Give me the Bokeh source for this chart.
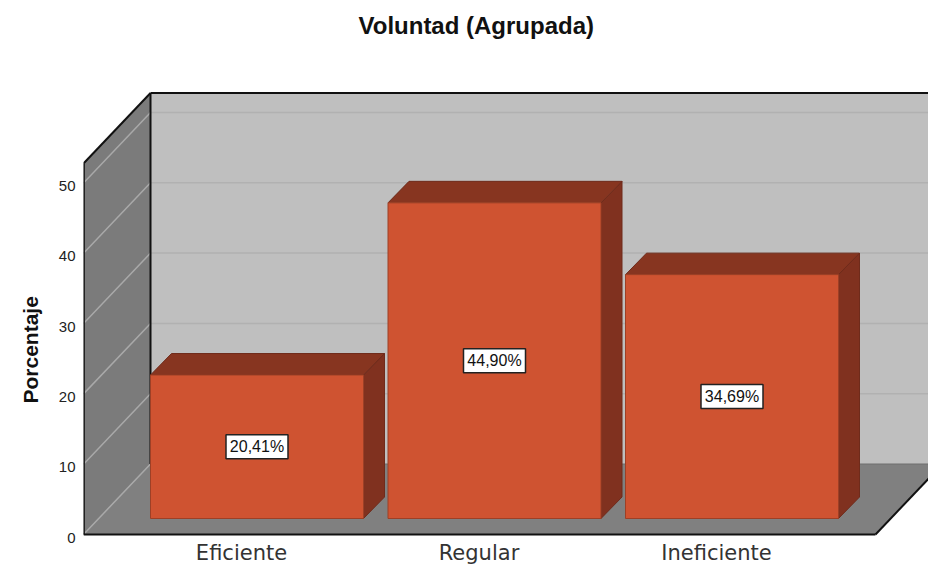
from bokeh.plotting import figure
from bokeh.models import ColumnDataSource, FixedTicker, Range1d, LinearAxis, Title
from bokeh.core.properties import value
from bokeh.embed import file_html
from bokeh.resources import INLINE

title_text = "Voluntad (Agrupada)"
y_label = "Porcentaje"
categories = ["Eficiente", "Regular", "Ineficiente"]
values = [20.41, 44.90, 34.69]
labels = ["20,41%", "44,90%", "34,69%"]
y_ticks = [0, 10, 20, 30, 40, 50]
grid_values = [10, 20, 30, 40, 50]

# scales: pixels per category step / per value unit
PXX, PXY = 237.5, 7.03
def ux(px): return px / PXX
def uy(px): return px / PXY

W, H = 928, 565
LEFT, RIGHT, TOP, BOTTOM = 83, 0, 40, 0
BASE = 31                     # pixels below the value zero
fw, fh = W - LEFT - RIGHT, H - TOP - BOTTOM
x0 = ux(-158)
y_start = -uy(BASE)
y_top = y_start + uy(fh)

p = figure(width=W, height=H, output_backend="svg", toolbar_location=None,
           x_range=Range1d(x0, x0 + ux(fw)), y_range=Range1d(y_start, y_top),
           min_border_left=LEFT, min_border_right=RIGHT, min_border_top=TOP, min_border_bottom=BOTTOM,
           background_fill_color="white", border_fill_color="white", outline_line_color=None)
p.grid.visible = False
p.yaxis.visible = False
p.title.text = title_text
p.title.text_font = "Liberation Sans"
p.title.text_font_size = "24px"
p.title.text_font_style = "bold"
p.title.text_color = "#111111"
p.title.align = "left"
p.title.offset = 275
p.title.standoff = 3

# depth of the box
DX, DY = ux(67), uy(70.5)
XL = x0                      # left front edge
XR = x0 + ux(792)            # right front edge of floor
YT = uy(371)                 # height of the back wall top, front plane

# walls and floor
p.patch([XL + DX, XL + DX + ux(900), XL + DX + ux(900), XL + DX], [DY, DY, YT + DY, YT + DY],
        fill_color="#bfbfbf", line_color=None)
p.patch([XL, XL + DX, XL + DX, XL], [0, DY, YT + DY, YT], fill_color="#7b7b7b", line_color=None)
p.patch([XL, XR, XR + DX, XL + DX], [0, 0, DY, DY], fill_color="#808080", line_color=None)

# gridlines
for g in grid_values:
    p.line([XL + DX, XL + DX + ux(900)], [g + DY, g + DY], line_color="#b1b1b1", line_width=1.5)
    p.line([XL, XL + DX], [g, g + DY], line_color="#a9a9a9", line_width=1.5)
p.line([XL, XL + DX], [0, DY], line_color="#a9a9a9", line_width=1.5)
p.line([XL + DX, XR + DX], [DY, DY], line_color="#6e6e6e", line_width=1)

# frame
p.line([XL + DX, XL + DX], [DY, YT + DY], line_color="#111111", line_width=2)
p.line([XL + DX, XL + DX + ux(900)], [YT + DY, YT + DY], line_color="#111111", line_width=2)
p.line([XL, XL + DX], [YT, YT + DY], line_color="#111111", line_width=2)
p.line([XL + ux(0.5), XL + ux(0.5)], [0, YT], line_color="#222222", line_width=2)
p.line([XL, XR], [0, 0], line_color="#111111", line_width=2)
p.line([XR, XR + DX], [0, DY], line_color="#111111", line_width=2)

# bars
SX, SY = ux(15.5), uy(16)    # offset of the bar's front face
HW = ux(106.5)               # half width
BX, BY = ux(21), uy(21.5)    # bar depth
for i, v in enumerate(values):
    l, r = i + SX - HW, i + SX + HW
    b, t = SY, SY + v
    p.patch([r, r + BX, r + BX, r], [b, b + BY, t + BY, t], fill_color="#80311f",
            line_color="#6f2b1b", line_width=1)
    p.patch([l, r, r + BX, l + BX], [t, t, t + BY, t + BY], fill_color="#873520",
            line_color="#6f2b1b", line_width=1)
    p.patch([l, r, r, l], [b, b, t, t], fill_color="#cf5331", line_color="#9d4026", line_width=1)

src = ColumnDataSource(dict(x=[i + SX for i in range(3)], y=[SY + v / 2 for v in values], t=labels))
p.rect(x="x", y="y", width=62, height=24, width_units="screen", height_units="screen", source=src,
       fill_color="white", line_color="#222222", line_width=1.5)
p.text(x="x", y="y", text="t", source=src, text_align="center", text_baseline="middle",
       text_font=value("Liberation Sans"), text_font_size="16px", text_color="#111111")

# axes
p.extra_y_ranges = {"ticks": Range1d(y_start + uy(3), y_top + uy(3))}
ya = LinearAxis(y_range_name="ticks", ticker=FixedTicker(ticks=y_ticks))
ya.axis_line_color = None
ya.major_tick_line_color = None
ya.minor_tick_line_color = None
ya.major_tick_out = 0
ya.major_tick_in = 0
ya.minor_tick_out = 0
ya.minor_tick_in = 0
ya.major_label_standoff = 8
ya.major_label_text_font = "Liberation Sans"
ya.major_label_text_font_size = "15px"
ya.major_label_text_color = "#222222"
p.add_layout(ya, "left")

p.add_layout(Title(text=y_label, align="left", offset=162, standoff=28,
                   text_font="Liberation Sans", text_font_size="21px", text_font_style="bold",
                   text_color="#111111"), "left")

xa = p.xaxis[0]
xa.fixed_location = 0
xa.ticker = FixedTicker(ticks=[0, 1, 2])
xa.major_label_overrides = {i: c for i, c in enumerate(categories)}
xa.axis_line_color = None
xa.major_tick_line_color = None
xa.minor_tick_line_color = None
xa.major_tick_out = 0
xa.major_tick_in = 0
xa.minor_tick_out = 0
xa.minor_tick_in = 0
xa.major_label_standoff = 6
xa.major_label_text_font = "DejaVu Sans"
xa.major_label_text_font_size = "21px"
xa.major_label_text_color = "#333333"

open("out.html", "w").write(file_html(p, INLINE))
